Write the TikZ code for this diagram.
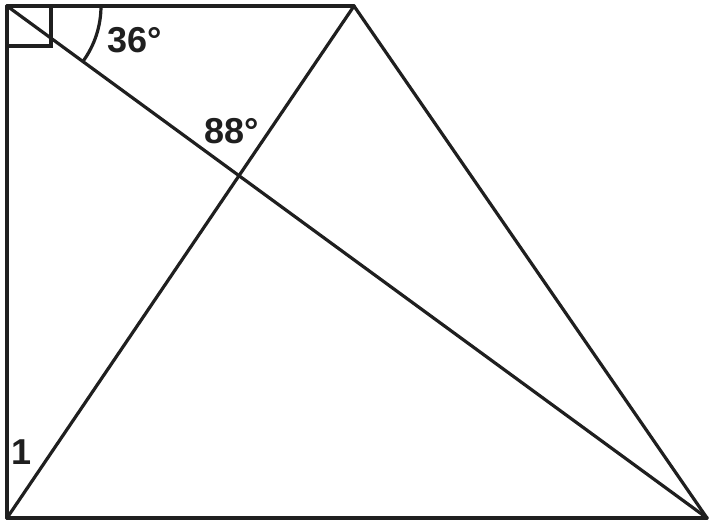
\documentclass[tikz,border=0pt]{standalone}
\usepackage{fontspec}
\setmainfont{Liberation Sans}
\begin{document}
\begin{tikzpicture}[x=1pt,y=-1pt,
  edge/.style={line width=3.2pt,line cap=round,line join=miter,black!88},
  lbl/.style={font=\fontsize{36}{40}\selectfont\bfseries,text=black!88,inner sep=0pt}]
\useasboundingbox (0,0) rectangle (711,522);
\coordinate (A) at (7,6);
\coordinate (B) at (354,6);
\coordinate (C) at (707,518);
\coordinate (D) at (7,518);
\draw[edge] (A) -- (B);
\draw[edge] (A) -- (D);
\draw[edge] (D) -- (C);
\draw[edge] (B) -- (C);
\draw[edge] (D) -- (B);
\draw[edge] (A) -- (C);
\draw[edge] (7,46) -- (51,46) -- (51,6);
\draw[edge] (A) ++(94,0) arc[start angle=0,end angle=36.1,radius=94];
\node[lbl] (t36) at (135,40) {36°};
\node[lbl] (t88) at (232,131) {88°};
\node[lbl] (t1) at (22,452) {1};
\end{tikzpicture}
\end{document}
